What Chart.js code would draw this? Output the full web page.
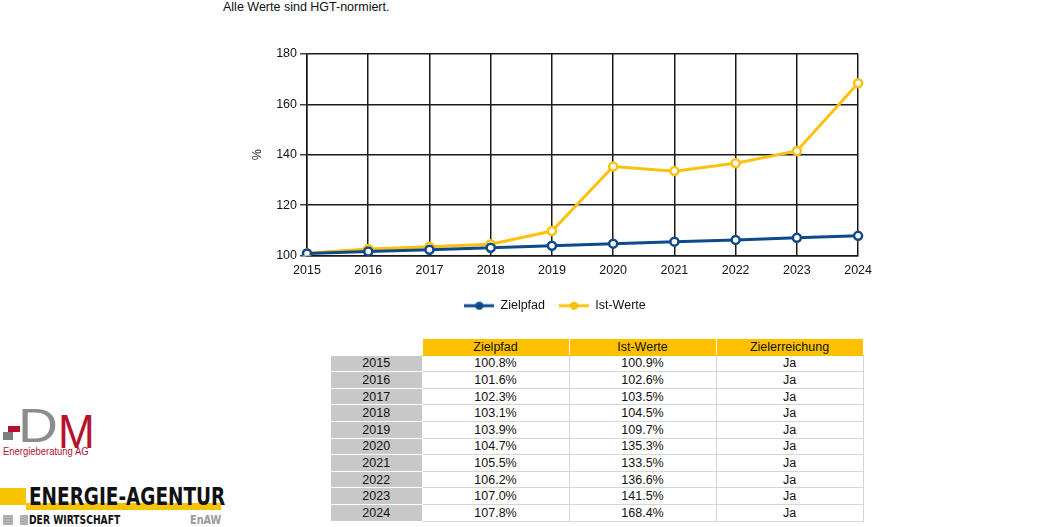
<!DOCTYPE html>
<html>
<head>
<meta charset="utf-8">
<script src="https://cdn.jsdelivr.net/npm/chart.js@4"></script>
<style>
  body { margin: 0; background: #fff; font-family: Arial, "Liberation Sans", sans-serif; }
  #page { position: relative; width: 1053px; height: 527px; overflow: hidden; }
  #note { position: absolute; left: 223px; top: 0px; font-size: 12.5px; color: #111; }
  #wrap { position: absolute; left: 230px; top: 40px; width: 650px; height: 290px; }
  #tbl { position: absolute; left: 330px; top: 338px; border-collapse: collapse; font-size: 12.5px; color: #111; }
  #tbl td { height: 15.6px; padding: 0; text-align: center; border: 1px solid #d6d6d6; line-height: 14px; }
  #tbl tr.head td { background: #ffc000; border-color: #fff; border-bottom-color: #ffc000; }
  #tbl tr.head td.blank { background: #fff; border: none; }
  #tbl td.yr { background: #c8c8c8; border-color: #fff; }
  .abs { position: absolute; white-space: nowrap; }
</style>
</head>
<body>
<div id="page">
  <div id="note">Alle Werte sind HGT-normiert.</div>
  <div id="wrap"><canvas id="graphCanvas"></canvas></div>
  <table id="tbl"></table>

  <!-- DM logo -->
  <div class="abs" style="left:3px;top:432px;width:10px;height:8px;background:#7d7d7d"></div>
  <div class="abs" style="left:8px;top:426px;width:12px;height:6px;background:#b3122e"></div>
  <div class="abs" style="left:18px;top:402px;font-size:48px;line-height:48px;color:#8c8c8c;transform:scaleX(1.15);transform-origin:left">D</div>
  <div class="abs" style="left:58px;top:405px;font-size:49px;line-height:52px;color:#b3122e;transform:scaleX(0.9);transform-origin:left">M</div>
  <div class="abs" style="left:3px;top:445px;font-size:10.5px;color:#b3122e;transform:scaleX(0.9);transform-origin:left">Energieberatung AG</div>

  <!-- EnAW logo -->
  <div class="abs" style="left:0px;top:488px;width:26px;height:17px;background:#f6c400"></div>
  <div class="abs" style="left:26px;top:503px;width:195px;height:7px;background:#f6c400"></div>
  <div class="abs" style="left:29px;top:482px;font-family:'DejaVu Sans Condensed','DejaVu Sans';font-weight:bold;font-size:25px;color:#111;transform:scaleX(0.82);transform-origin:left">ENERGIE-AGENTUR</div>
  <div class="abs" style="left:3px;top:515px;width:10px;height:10px;background:#b0b0b0"></div>
  <div class="abs" style="left:20px;top:515px;width:8px;height:10px;background:#b0b0b0"></div>
  <div class="abs" style="left:29px;top:513px;font-family:'DejaVu Sans Condensed','DejaVu Sans';font-weight:bold;font-size:12px;color:#111;transform:scaleX(0.85);transform-origin:left">DER WIRTSCHAFT</div>
  <div class="abs" style="left:190px;top:513px;font-family:'DejaVu Sans Condensed','DejaVu Sans';font-weight:bold;font-size:12px;color:#9a9a9a;transform:scaleX(0.9);transform-origin:left">EnAW</div>
</div>

<script>
var years = ['2015', '2016', '2017', '2018', '2019', '2020', '2021', '2022', '2023', '2024'];
var zielpfad = [100.8, 101.6, 102.3, 103.1, 103.9, 104.7, 105.5, 106.2, 107.0, 107.8];
var istWerte = [100.9, 102.6, 103.5, 104.5, 109.7, 135.3, 133.5, 136.6, 141.5, 168.4];
var zielerreichung = ['Ja', 'Ja', 'Ja', 'Ja', 'Ja', 'Ja', 'Ja', 'Ja', 'Ja', 'Ja'];
var tableHead = ['Zielpfad', 'Ist-Werte', 'Zielerreichung'];
var yTicks = [100, 120, 140, 160, 180];

var blue = '#0d4a8a';
var yellow = '#fcc10f';

// legend symbol: line with a circle in the middle
function legendSymbol(color)
{
    var c = document.createElement('canvas');
    c.width = 30; c.height = 10;
    var ctx = c.getContext('2d');
    ctx.strokeStyle = color;
    ctx.lineWidth = 3;
    ctx.beginPath(); ctx.moveTo(0, 5); ctx.lineTo(30, 5); ctx.stroke();
    ctx.fillStyle = color;
    ctx.beginPath(); ctx.arc(15, 5, 4, 0, Math.PI * 2); ctx.fill();
    return c;
}

// table
var tbl = document.getElementById('tbl');
var html = '<tr class="head"><td class="blank" style="width:91px"></td>';
for (var h = 0; h < tableHead.length; h++) {
    html += '<td style="width:146px">' + tableHead[h] + '</td>';
}
html += '</tr>';
for (var i = 0; i < years.length; i++) {
    html += '<tr><td class="yr">' + years[i] + '</td><td>' + zielpfad[i].toFixed(1) + '%</td><td>' +
        istWerte[i].toFixed(1) + '%</td><td>' + zielerreichung[i] + '</td></tr>';
}
tbl.innerHTML = html;

Chart.defaults.font.family = 'Arial, "Liberation Sans", sans-serif';
Chart.defaults.font.size = 12.5;
Chart.defaults.color = '#111';

var symbols = [legendSymbol(blue), legendSymbol(yellow)];

var chartdata = {
    labels: years,
    datasets: [
        {
            label: 'Zielpfad',
            data: zielpfad,
            borderColor: blue,
            backgroundColor: '#fff',
            borderWidth: 3,
            pointRadius: 4,
            pointBorderWidth: 2.5,
            pointBackgroundColor: '#fff',
            pointBorderColor: blue
        },
        {
            label: 'Ist-Werte',
            data: istWerte,
            borderColor: yellow,
            backgroundColor: '#fff',
            borderWidth: 3,
            pointRadius: 4,
            pointBorderWidth: 2.5,
            pointBackgroundColor: '#fff',
            pointBorderColor: yellow
        }
    ]
};

var lineGraph = new Chart(document.getElementById('graphCanvas'), {
    type: 'line',
    data: chartdata,
    options: {
        responsive: true,
        maintainAspectRatio: false,
        animation: false,
        layout: { padding: { left: 20, right: 20, top: 14, bottom: 8 } },
        plugins: {
            tooltip: { enabled: false },
            legend: {
                position: 'bottom',
                labels: {
                    usePointStyle: true,
                    pointStyleWidth: 30,
                    padding: 14,
                    color: '#111',
                    generateLabels: function (chart) {
                        var items = Chart.defaults.plugins.legend.labels.generateLabels(chart);
                        items.forEach(function (it, k) { it.pointStyle = symbols[k]; });
                        return items;
                    }
                }
            }
        },
        scales: {
            x: {
                offset: false,
                grid: { color: '#1a1a1a', lineWidth: 1.5, drawTicks: false },
                border: { color: '#1a1a1a', width: 1.5 },
                ticks: { padding: 8, maxRotation: 0, color: '#111' },
                afterFit: function (s) { s.height = 30; }
            },
            y: {
                min: 100,
                max: 180,
                afterBuildTicks: function (s) { s.ticks = yTicks.map(function (v) { return { value: v }; }); },
                grid: { color: '#1a1a1a', lineWidth: 1.5, tickLength: 7, tickColor: '#444' },
                border: { color: '#1a1a1a', width: 1.5 },
                ticks: { padding: 3, color: '#111' },
                title: { display: true, text: '%', color: '#111', padding: 0 },
                afterFit: function (s) { s.width = 57; }
            }
        }
    }
});
</script>
</body>
</html>
